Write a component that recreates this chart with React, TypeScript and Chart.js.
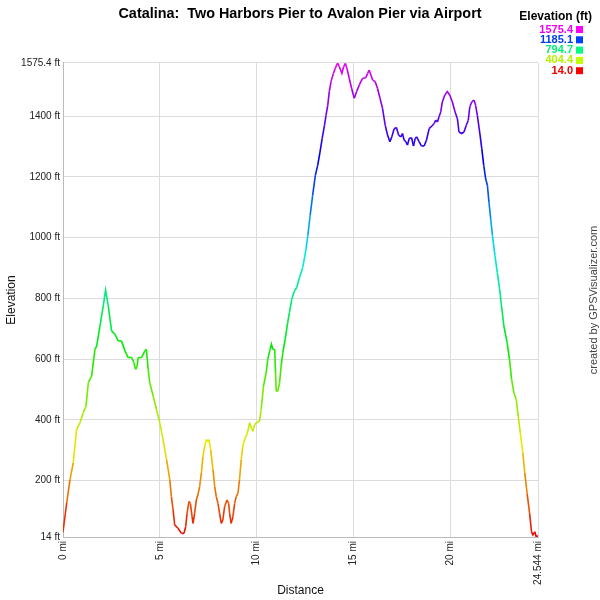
import React, { useEffect, useRef } from "react";
import { Chart, registerables } from "chart.js";

Chart.register(...registerables);

const distances = [
  0.0, 0.19, 0.36, 0.53, 0.7, 0.88, 1.05, 1.19, 1.31, 1.48, 1.65, 1.74, 1.91, 2.08, 2.2, 2.34, 2.51, 2.68, 2.85, 3.02,
  3.2, 3.37, 3.54, 3.66, 3.75, 3.83, 3.88, 4.06, 4.23, 4.31, 4.4, 4.48, 4.66, 4.83, 5.0, 5.17, 5.35, 5.52, 5.6, 5.69,
  5.77, 5.94, 6.12, 6.25, 6.34, 6.41, 6.51, 6.58, 6.67, 6.72, 6.8, 6.89, 6.97, 7.06, 7.15, 7.23, 7.32, 7.41, 7.49, 7.54,
  7.63, 7.75, 7.84, 7.92, 8.01, 8.09, 8.18, 8.26, 8.35, 8.47, 8.56, 8.61, 8.69, 8.78, 8.87, 8.95, 9.04, 9.12, 9.21, 9.29,
  9.38, 9.47, 9.55, 9.64, 9.73, 9.81, 9.9, 10.0, 10.15, 10.24, 10.36, 10.5, 10.58, 10.7, 10.77, 10.84, 10.94, 10.98, 11.02, 11.1,
  11.19, 11.27, 11.36, 11.48, 11.61, 11.7, 11.82, 11.96, 12.08, 12.22, 12.39, 12.56, 12.65, 12.77, 12.9, 13.04, 13.16, 13.28, 13.39, 13.51,
  13.59, 13.68, 13.76, 13.85, 13.97, 14.07, 14.19, 14.28, 14.41, 14.5, 14.59, 14.67, 14.79, 14.91, 15.05, 15.17, 15.31, 15.48, 15.65, 15.74,
  15.82, 15.91, 16.0, 16.13, 16.25, 16.38, 16.51, 16.65, 16.77, 16.89, 16.99, 17.11, 17.23, 17.34, 17.46, 17.54, 17.63, 17.72, 17.8, 17.89,
  18.01, 18.11, 18.2, 18.28, 18.4, 18.52, 18.66, 18.78, 18.92, 19.06, 19.18, 19.26, 19.35, 19.43, 19.52, 19.6, 19.73, 19.86, 19.98, 20.12,
  20.26, 20.38, 20.46, 20.6, 20.72, 20.84, 20.94, 21.02, 21.12, 21.24, 21.32, 21.41, 21.53, 21.64, 21.74, 21.84, 21.93, 22.01, 22.1, 22.19,
  22.32, 22.44, 22.56, 22.66, 22.78, 22.95, 23.07, 23.18, 23.3, 23.42, 23.52, 23.63, 23.76, 23.86, 23.98, 24.11, 24.21, 24.28, 24.38, 24.45,
  24.544,
];

const elevations = [
  30, 126, 202, 259, 368, 391, 424, 445, 523, 544, 632, 643, 709, 775, 828, 775, 693, 682, 660, 660,
  627, 605, 606, 589, 566, 577, 605, 605, 627, 632, 566, 523, 478, 434, 391, 335, 269, 202, 147, 103,
  54, 43, 26, 26, 48, 92, 131, 125, 81, 59, 92, 136, 153, 180, 225, 279, 313, 335, 329, 335,
  302, 235, 180, 147, 125, 92, 59, 70, 114, 136, 125, 92, 59, 81, 125, 147, 158, 202, 269, 313,
  335, 346, 362, 390, 373, 362, 384, 390, 395, 434, 511, 555, 599, 632, 649, 632, 632, 555, 494, 494,
  522, 577, 621, 665, 720, 753, 797, 825, 836, 869, 902, 963, 1007, 1073, 1139, 1205, 1238, 1282, 1326, 1370,
  1403, 1436, 1481, 1514, 1541, 1558, 1575, 1563, 1541, 1563, 1574, 1558, 1525, 1492, 1459, 1481, 1503, 1525, 1527, 1541,
  1552, 1536, 1519, 1514, 1492, 1459, 1426, 1370, 1338, 1316, 1332, 1359, 1363, 1338, 1332, 1343, 1321, 1316, 1305, 1327,
  1329, 1302, 1327, 1332, 1316, 1302, 1302, 1321, 1359, 1368, 1376, 1387, 1381, 1398, 1414, 1447, 1470, 1481, 1470, 1447,
  1414, 1392, 1348, 1343, 1348, 1370, 1387, 1431, 1447, 1453, 1436, 1403, 1348, 1293, 1238, 1194, 1172, 1117, 1062, 1007,
  941, 886, 831, 775, 709, 654, 599, 533, 489, 467, 412, 357, 291, 225, 158, 92, 31, 21, 31, 15,
  18,
];

const xTickValues = [0, 5, 10, 15, 20, 24.544];
const xTickLabels = ["0 mi", "5 mi", "10 mi", "15 mi", "20 mi", "24.544 mi"];
const yTickValues = [14, 200, 400, 600, 800, 1000, 1200, 1400, 1575.4];
const yTickLabels = ["14 ft", "200 ft", "400 ft", "600 ft", "800 ft", "1000 ft", "1200 ft", "1400 ft", "1575.4 ft"];
const legendValues = [1575.4, 1185.1, 794.7, 404.4, 14.0];

const TITLE = "Catalina:  Two Harbors Pier to Avalon Pier via Airport";
const CREDIT = "created by GPSVisualizer.com";
const FONT = "'Liberation Sans', Arial, sans-serif";
const Y_MIN = 14;
const Y_MAX = 1575.4;

function hueFor(v: number) {
  const t = Math.max(0, Math.min(1, (v - Y_MIN) / (Y_MAX - Y_MIN)));
  return 300 * t;
}
function colorFor(v: number, l = 46) {
  return `hsl(${hueFor(v).toFixed(1)}, 100%, ${l}%)`;
}

const overlayPlugin = {
  id: "overlay",
  afterDraw(chart: any) {
    const ctx = chart.ctx as CanvasRenderingContext2D;
    ctx.save();
    // legend
    ctx.textBaseline = "middle";
    ctx.textAlign = "right";
    ctx.font = `bold 12px ${FONT}`;
    ctx.fillStyle = "#000";
    ctx.fillText("Elevation (ft)", 592, 17);
    ctx.font = `bold 11px ${FONT}`;
    legendValues.forEach((v, i) => {
      const y = 29.5 + i * 10.3;
      ctx.fillStyle = colorFor(v, 47);
      ctx.fillText(v.toFixed(1), 573, y);
      ctx.fillStyle = colorFor(v, 50);
      ctx.fillRect(576, y - 3.5, 7, 7);
    });
    // credit
    ctx.translate(594, 300);
    ctx.rotate(-Math.PI / 2);
    ctx.font = `11px ${FONT}`;
    ctx.fillStyle = "#444";
    ctx.textAlign = "center";
    ctx.textBaseline = "middle";
    ctx.fillText(CREDIT, 0, 0);
    ctx.restore();
  },
};

export default function App() {
  const canvasRef = useRef<HTMLCanvasElement | null>(null);

  useEffect(() => {
    if (!canvasRef.current) return;
    Chart.defaults.font.family = FONT;
    const points = distances.map((d, i) => ({ x: d, y: elevations[i] }));
    const chart = new Chart(canvasRef.current, {
      type: "line",
      data: {
        datasets: [
          {
            data: points,
            borderWidth: 1.6,
            borderColor: "#000",
            pointRadius: 0,
            tension: 0,
            fill: false,
            segment: {
              borderColor: (c: any) => colorFor((c.p0.parsed.y + c.p1.parsed.y) / 2),
            },
          },
        ],
      },
      options: {
        responsive: false,
        animation: false,
        events: [],
        layout: { padding: 0 },
        plugins: {
          legend: { display: false },
          tooltip: { enabled: false },
          title: {
            display: true,
            text: TITLE,
            color: "#000",
            font: { size: 14.4, weight: "bold", family: FONT },
            padding: { top: 5, bottom: 40.7 },
          },
        },
        scales: {
          x: {
            type: "linear",
            min: 0,
            max: 24.544,
            afterBuildTicks: (s: any) => {
              s.ticks = xTickValues.map((v) => ({ value: v }));
            },
            afterFit: (s: any) => {
              s.height = 63;
            },
            ticks: {
              minRotation: 90,
              maxRotation: 90,
              autoSkip: false,
              padding: 4,
              color: "#222",
              font: { size: 10, family: FONT },
              callback: (v: any) => {
                const i = xTickValues.findIndex((t) => Math.abs(t - Number(v)) < 1e-6);
                return i >= 0 ? xTickLabels[i] : "";
              },
            },
            grid: { color: "#dcdcdc", lineWidth: 1, drawTicks: false },
            border: { color: "#bbbbbb" },
            title: {
              display: true,
              text: "Distance",
              color: "#111",
              font: { size: 12, family: FONT },
              padding: { top: 2, bottom: 2 },
            },
          },
          y: {
            type: "linear",
            min: Y_MIN,
            max: Y_MAX,
            afterBuildTicks: (s: any) => {
              s.ticks = yTickValues.map((v) => ({ value: v }));
            },
            afterFit: (s: any) => {
              s.width = 63;
            },
            ticks: {
              autoSkip: false,
              padding: 3,
              color: "#222",
              font: { size: 10, family: FONT },
              callback: (v: any) => {
                const i = yTickValues.findIndex((t) => Math.abs(t - Number(v)) < 1e-6);
                return i >= 0 ? yTickLabels[i] : "";
              },
            },
            grid: { color: "#dcdcdc", lineWidth: 1, drawTicks: false },
            border: { color: "#bbbbbb" },
            title: {
              display: true,
              text: "Elevation",
              color: "#111",
              font: { size: 12, family: FONT },
              padding: { top: 4, bottom: 4 },
            },
          },
          yRight: {
            type: "linear",
            position: "right",
            min: Y_MIN,
            max: Y_MAX,
            afterFit: (s: any) => {
              s.width = 62;
            },
            ticks: { display: false },
            grid: { display: false, drawTicks: false },
            border: { display: false },
          },
        },
      },
      plugins: [overlayPlugin],
    } as any);
    return () => chart.destroy();
  }, []);

  return (
    <div style={{ position: "absolute", left: 0, top: 0, width: 600, height: 600, background: "#fff" }}>
      <canvas ref={canvasRef} width={600} height={600} style={{ display: "block", width: 600, height: 600 }} />
    </div>
  );
}
